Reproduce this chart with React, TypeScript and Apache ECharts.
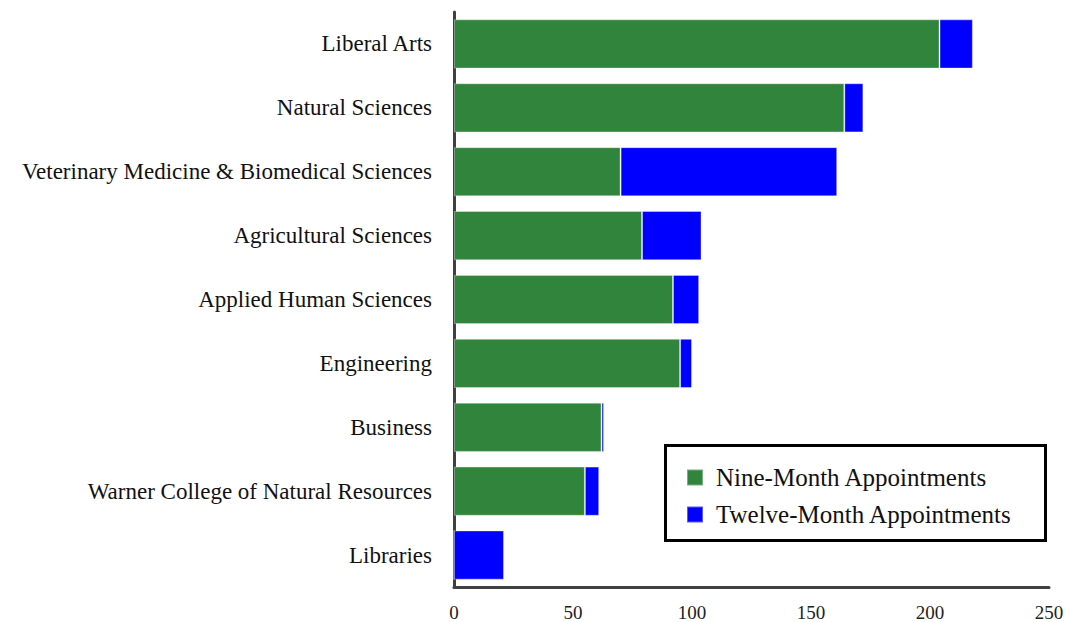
import React, { useEffect, useRef } from "react";
import * as echarts from "echarts";

const categories = [
  "Liberal Arts",
  "Natural Sciences",
  "Veterinary Medicine & Biomedical Sciences",
  "Agricultural Sciences",
  "Applied Human Sciences",
  "Engineering",
  "Business",
  "Warner College of Natural Resources",
  "Libraries",
];
const nineMonth = [204, 164, 70, 79, 92, 95, 62, 55, 0];
const twelveMonth = [14, 8, 91, 25, 11, 5, 1, 6, 21];
const xTicks = { min: 0, max: 250, interval: 50 };

const FONT = "'Liberation Serif', 'DejaVu Serif', serif";

export default function App() {
  const ref = useRef<HTMLDivElement>(null);
  useEffect(() => {
    const chart = echarts.init(ref.current!, null, { renderer: "svg" });
    chart.setOption({
      animation: false,
      backgroundColor: "#ffffff",
      grid: { left: 454, right: 20, top: 12, bottom: 35, containLabel: false },
      xAxis: {
        type: "value",
        min: xTicks.min,
        max: xTicks.max,
        interval: xTicks.interval,
        axisLine: { show: true, lineStyle: { color: "#404040", width: 3 } },
        axisTick: { show: false },
        splitLine: { show: false },
        axisLabel: { fontFamily: FONT, fontSize: 19, color: "#222", margin: 16 },
      },
      yAxis: {
        type: "category",
        data: categories,
        inverse: true,
        axisLine: { show: true, lineStyle: { color: "#404040", width: 3 } },
        axisTick: { show: false },
        axisLabel: { fontFamily: FONT, fontSize: 23, color: "#111", margin: 22 },
      },
      legend: {
        orient: "vertical",
        left: 681,
        top: 460,
        itemWidth: 16,
        itemHeight: 16,
        itemGap: 12,
        icon: "rect",
        textStyle: { fontFamily: FONT, fontSize: 25, color: "#111", padding: [0, 0, 0, 8] },
        data: ["Nine-Month Appointments", "Twelve-Month Appointments"],
      },
      graphic: [
        {
          type: "rect",
          left: 663,
          top: 443,
          shape: { width: 380, height: 95 },
          style: { fill: "none", stroke: "#000", lineWidth: 3 },
          z: 10,
        },
      ],
      series: [
        {
          name: "Nine-Month Appointments",
          type: "bar",
          stack: "total",
          data: nineMonth,
          barCategoryGap: "23%",
          itemStyle: { color: "#30843b", borderColor: "rgba(255,255,255,0.35)", borderWidth: 1 },
        },
        {
          name: "Twelve-Month Appointments",
          type: "bar",
          stack: "total",
          data: twelveMonth,
          barCategoryGap: "23%",
          itemStyle: { color: "#0000ff", borderColor: "rgba(255,255,255,0.35)", borderWidth: 1 },
        },
      ],
    });
    return () => chart.dispose();
  }, []);
  return <div ref={ref} style={{ width: 1069, height: 622, position: "absolute", left: 0, top: 0 }} />;
}
